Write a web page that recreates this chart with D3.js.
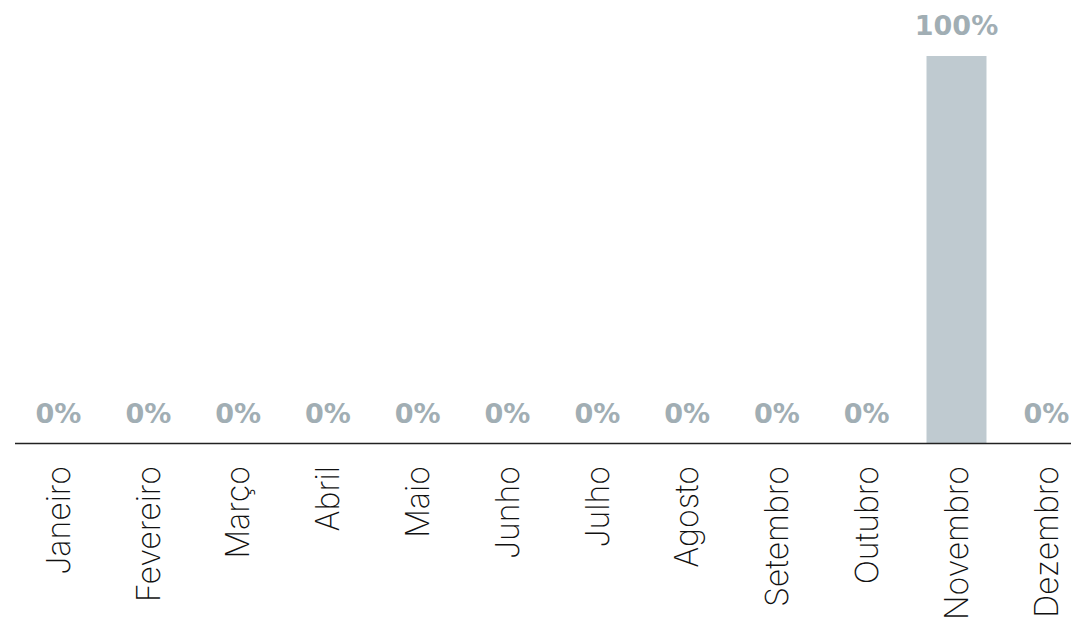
<!DOCTYPE html>
<html>
<head>
<meta charset="utf-8">
<script src="https://cdn.jsdelivr.net/npm/d3@7"></script>
<style>
  body { margin: 0; background: #fff; overflow: hidden; }
  .pct { font-family: "DejaVu Sans", sans-serif; font-weight: bold; font-size: 27px; fill: #a1aeb4; }
  .month { font-family: Inter, Roboto, sans-serif; font-weight: 250; font-size: 32px; fill: #111; }
</style>
</head>
<body>
<div id="chart"></div>
<script>
var months = ["Janeiro", "Fevereiro", "Março", "Abril", "Maio", "Junho",
  "Julho", "Agosto", "Setembro", "Outubro", "Novembro", "Dezembro"];
var values = [0, 0, 0, 0, 0, 0, 0, 0, 0, 0, 100, 0];

var W = 1071, H = 620;
var axisY = 443.5;

var svg = d3.select("#chart").append("svg")
  .attr("width", W)
  .attr("height", H);

// band scale runs a bit past the right edge, like the original
var x = d3.scaleBand()
  .domain(months)
  .range([13.6, 1091.2])
  .paddingInner(0.332)
  .paddingOuter(0.166);

var y = d3.scaleLinear()
  .domain([0, 100])
  .range([axisY, 56]);

var data = months.map(function(m, i) { return { month: m, value: values[i] }; });

// bars
svg.selectAll(".bar")
  .data(data)
  .enter().append("rect")
  .attr("class", "bar")
  .attr("x", function(d) { return x(d.month); })
  .attr("width", x.bandwidth())
  .attr("y", function(d) { return y(d.value); })
  .attr("height", function(d) { return y(0) - y(d.value); })
  .attr("fill", "#bfcad0");

// value labels
svg.selectAll(".pct")
  .data(data)
  .enter().append("text")
  .attr("class", "pct")
  .attr("x", function(d) { return x(d.month) + x.bandwidth() / 2; })
  .attr("y", function(d) { return y(d.value) - 21; })
  .attr("text-anchor", "middle")
  .text(function(d) { return d.value + "%"; });

// baseline
svg.append("line")
  .attr("x1", 15)
  .attr("x2", W + 20)
  .attr("y1", axisY)
  .attr("y2", axisY)
  .attr("stroke", "#222")
  .attr("stroke-width", 1.6);

// month labels, rotated
svg.selectAll(".month")
  .data(months)
  .enter().append("text")
  .attr("class", "month")
  .attr("transform", function(d) {
    return "translate(" + (x(d) + x.bandwidth() / 2) + "," + 466 + ") rotate(-90)";
  })
  .attr("dy", "0.35em")
  .attr("text-anchor", "end")
  .text(function(d) { return d; });
</script>
</body>
</html>
